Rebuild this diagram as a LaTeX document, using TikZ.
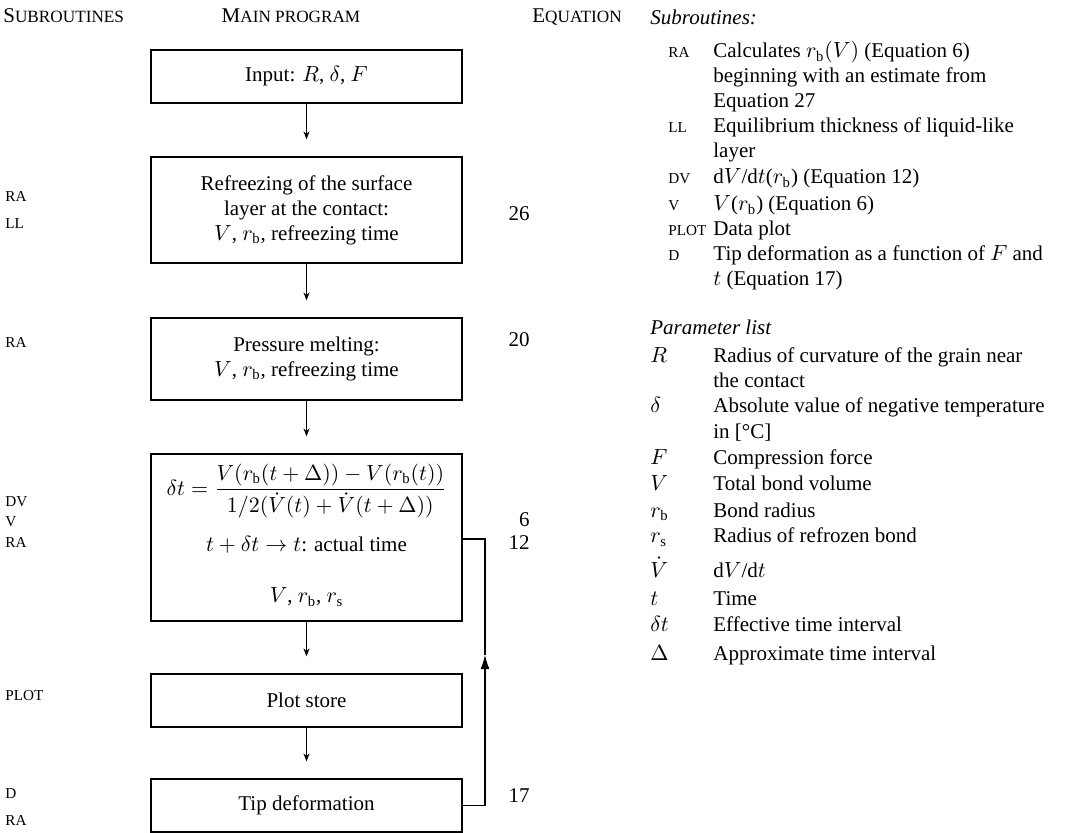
\documentclass[tikz,border=0pt]{standalone}
\usepackage{fontspec}
\setmainfont{Liberation Serif}
\usetikzlibrary{arrows.meta}
\newcommand\smc[1]{{\fontsize{7.6}{9}\selectfont #1}}
\newcommand\hsc[1]{{\fontsize{8.6}{10}\selectfont #1}}
\newcommand\rb{r_{\mathrm{b}}}
\newcommand\rs{r_{\mathrm{s}}}

\begin{document}
\begin{tikzpicture}[x=0.5pt, y=-0.5pt, font=\fontsize{10.5}{12.5}\selectfont,
    prog/.style={draw, line width=0.6pt, minimum width=155.5pt, align=center, inner sep=0pt},
    flow/.style={-{Stealth[length=4pt,width=3pt]}, line width=0.5pt, shorten >=8.5pt},
    back/.style={line width=0.6pt},
    lbl/.style={anchor=west, inner sep=0pt, text height=7pt, text depth=2pt},
    eqno/.style={anchor=east, inner sep=0pt, text height=7pt, text depth=2pt}]
    \useasboundingbox (0,0) rectangle (1065,833);
    % column heads
    \node[lbl] (hsub) at (3,18) {S\hsc{UBROUTINES}};
    \node[inner sep=0pt, text height=7pt, text depth=2pt] (hmain) at (291,18) {M\hsc{AIN PROGRAM}};
    \node[lbl] (heq) at (532,18) {E\hsc{QUATION}};
    % main program
    \node[prog, minimum height=26.5pt] (input) at (306.5,76.5) {Input: $R$, $\delta$, $F$};
    \node[prog, minimum height=53pt] (refreeze) at (306.5,210) {Refreezing of the surface\\layer at the contact:\\$V$, $\rb$, refreezing time};
    \node[prog, minimum height=41pt] (pmelt) at (306.5,359) {Pressure melting:\\$V$, $\rb$, refreezing time};
    \node[prog, minimum height=83.5pt] (tstep) at (306.5,537.5) {};
    \node[inner sep=0pt] (tfrac) at (306.5,491) {$\delta t = \displaystyle\frac{V(\rb(t+\Delta)) - V(\rb(t))}{1/2(\dot V(t) + \dot V(t+\Delta))}$};
    \node[inner sep=0pt] (tact) at (306.5,545) {$t+\delta t\rightarrow t$: actual time};
    \node[inner sep=0pt] (tvar) at (306.5,597) {$V$, $\rb$, $\rs$};
    \node[prog, minimum height=26.5pt] (plotst) at (306.5,700.5) {Plot store};
    \node[prog, minimum height=26.5pt] (tipdef) at (306.5,805.5) {Tip deformation};
    \draw[flow] (input) -- (refreeze);
    \draw[flow] (refreeze) -- (pmelt);
    \draw[flow] (pmelt) -- (tstep);
    \draw[flow] (tstep) -- (plotst);
    \draw[flow] (plotst) -- (tipdef);
    % loop back
    \coordinate (fbmid) at (485,655);
    \coordinate (fbtop) at (485,539);
    \draw[back, -{Latex[length=7pt,width=4.5pt]}] (tipdef.east) -| (fbmid);
    \draw[back] (fbmid) -- (fbtop) -- (tstep.east |- fbtop);
    % subroutines called
    \foreach \nm/\yy [count=\i] in {RA/197, LL/224, RA/343, DV/502, V/522, RA/542, PLOT/695, D/793, RA/820}
        \node[lbl] (call\i) at (5,\yy) {\smc{\nm}};
    % equation numbers
    \foreach \nm/\yy [count=\i] in {26/216, 20/342, 6/522, 12/545, 17/797}
        \node[eqno] (eq\i) at (530,\yy) {\nm};
    % key: subroutines
    \node[lbl] (ksub) at (650,20) {\itshape Subroutines:};
    \foreach \nm/\txt/\yy [count=\i] in {
        RA/{Calculates $\rb(V)$ (Equation 6)}/53,
        {}/{beginning with an estimate from}/78,
        {}/{Equation 27}/103,
        LL/{Equilibrium thickness of liquid-like}/128,
        {}/{layer}/153,
        DV/{d$V$/d$t$($\rb$) (Equation 12)}/179,
        V/{$V$($\rb$) (Equation 6)}/206,
        PLOT/{Data plot}/231,
        D/{Tip deformation as a function of $F$ and}/256,
        {}/{$t$ (Equation 17)}/281}
    {
        \node[lbl] (ks\i) at (668,\yy) {\smc{\nm}};
        \node[lbl] (kd\i) at (713,\yy) {\txt};
    }
    % key: parameters
    \node[lbl] (kpar) at (650,330) {\itshape Parameter list};
    \foreach \nm/\txt/\yy [count=\i] in {
        $R$/{Radius of curvature of the grain near}/358,
        {}/{the contact}/383,
        $\delta$/{Absolute value of negative temperature}/408,
        {}/{in [°C]}/434,
        $F$/{Compression force}/460,
        $V$/{Total bond volume}/486,
        $\rb$/{Bond radius}/512,
        $\rs$/{Radius of refrozen bond}/538,
        $\dot V$/{d$V$/d$t$}/572,
        $t$/{Time}/600,
        $\delta t$/{Effective time interval}/627,
        $\Delta$/{Approximate time interval}/655}
    {
        \node[lbl] (ps\i) at (650,\yy) {\nm};
        \node[lbl] (pd\i) at (713,\yy) {\txt};
    }
\end{tikzpicture}
\end{document}
